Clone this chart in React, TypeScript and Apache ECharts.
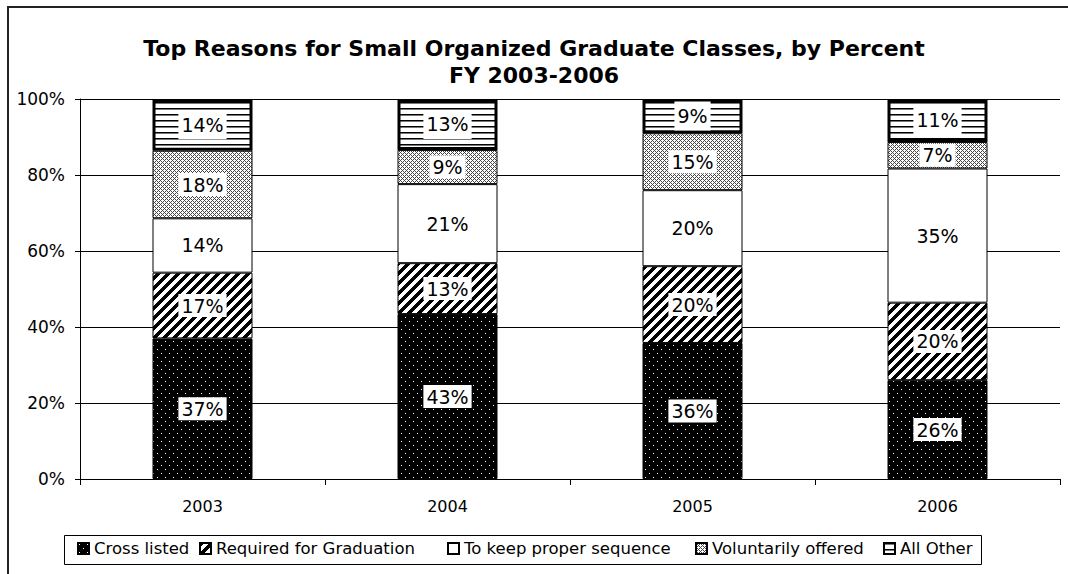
import React, { useEffect, useRef } from "react";
import * as echarts from "echarts";

const years = ["2003", "2004", "2005", "2006"];
const crossListed = [37.0, 43.4, 35.8, 26.0];
const requiredForGraduation = [17.3, 13.4, 20.2, 20.4];
const keepSequence = [14.3, 20.8, 20.0, 35.3];
const voluntarilyOffered = [17.8, 9.0, 15.0, 7.0];
const allOther = [13.6, 13.4, 9.0, 11.3];
const seriesNames = ["Cross listed", "Required for Graduation", "To keep proper sequence", "Voluntarily offered", "All Other"];
const titleLines = ["Top Reasons for Small Organized Graduate Classes, by Percent", "FY 2003-2006"];

const FONT = "'DejaVu Sans', Tahoma, sans-serif";
const legendLeft = [77, 199, 447, 695, 883];

function tile(w: number, h: number, draw: (ctx: CanvasRenderingContext2D) => void) {
  const c = document.createElement("canvas");
  c.width = w;
  c.height = h;
  const ctx = c.getContext("2d") as CanvasRenderingContext2D;
  draw(ctx);
  return { image: c.toDataURL(), repeat: "repeat", imageWidth: w, imageHeight: h } as any;
}

function makePatterns() {
  const dots = tile(8, 8, (ctx) => {
    ctx.fillStyle = "#000";
    ctx.fillRect(0, 0, 8, 8);
    ctx.fillStyle = "#fff";
    ctx.fillRect(1, 1, 1, 1);
    ctx.fillRect(5, 5, 1, 1);
  });
  const diag = tile(10, 10, (ctx) => {
    ctx.fillStyle = "#fff";
    ctx.fillRect(0, 0, 10, 10);
    ctx.fillStyle = "#000";
    for (let y = 0; y < 10; y++) {
      for (let k = 0; k < 5; k++) {
        const x = (((9 - y + k) % 10) + 10) % 10;
        ctx.fillRect(x, y, 1, 1);
      }
    }
  });
  const hatch = tile(4, 4, (ctx) => {
    ctx.fillStyle = "#fff";
    ctx.fillRect(0, 0, 4, 4);
    ctx.fillStyle = "#444";
    for (let y = 0; y < 4; y++) {
      for (let x = 0; x < 4; x++) {
        if ((x + y) % 4 === 0 || (((x - y) % 4) + 4) % 4 === 0) ctx.fillRect(x, y, 1, 1);
      }
    }
  });
  const hlines = tile(4, 6, (ctx) => {
    ctx.fillStyle = "#fff";
    ctx.fillRect(0, 0, 4, 6);
    ctx.fillStyle = "#000";
    ctx.fillRect(0, 0, 4, 1);
    ctx.fillStyle = "#777";
    ctx.fillRect(0, 1, 4, 1);
  });
  return { dots, diag, hatch, hlines };
}

export default function App() {
  const ref = useRef<HTMLDivElement>(null);
  useEffect(() => {
    if (!ref.current) return;
    const chart = echarts.init(ref.current, null, { renderer: "svg" });
    const p = makePatterns();
    const mk = (name: string, data: number[], color: any, borderWidth = 1, padV = 2) => ({
      name,
      type: "bar",
      stack: "total",
      data,
      barWidth: 100,
      itemStyle: { color, borderColor: "#000", borderWidth },
      label: {
        show: true,
        position: "inside",
        formatter: (q: any) => Math.round(q.value) + "%",
        backgroundColor: "#fff",
        padding: [padV, 3],
        color: "#000",
        fontSize: 19,
        fontFamily: FONT,
      },
    });
    chart.setOption({
      animation: false,
      backgroundColor: "#fff",
      title: {
        text: titleLines.join("\n"),
        left: "center",
        top: 30,
        textStyle: { fontFamily: FONT, fontSize: 22, fontWeight: "bold", color: "#000", lineHeight: 27 },
      },
      graphic: [
        {
          type: "rect",
          shape: { x: 8, y: 7, width: 1200, height: 700 },
          style: { fill: "none", stroke: "#222", lineWidth: 2 },
          silent: true,
        },
        {
          type: "rect",
          shape: { x: 64.5, y: 535.5, width: 917, height: 29 },
          style: { fill: "none", stroke: "#000", lineWidth: 1 },
          silent: true,
        },
      ],
      grid: { left: 80, right: 8, top: 99, bottom: 95 },
      legend: seriesNames.map((n, i) => ({
        left: legendLeft[i],
        top: 540,
        padding: 0,
        itemWidth: 11,
        itemHeight: 11,
        icon: "rect",
        textStyle: { fontFamily: FONT, fontSize: 16.5, color: "#000" },
        data: [n],
      })),
      xAxis: {
        type: "category",
        data: years,
        axisLine: { lineStyle: { color: "#000", width: 1 } },
        axisTick: { show: true, alignWithLabel: false, length: 6, lineStyle: { color: "#000" } },
        axisLabel: { color: "#000", fontSize: 16, fontFamily: FONT, margin: 19 },
      },
      yAxis: {
        type: "value",
        min: 0,
        max: 100,
        interval: 20,
        axisLine: { show: true, lineStyle: { color: "#000", width: 1 } },
        axisTick: { show: true, length: 5, lineStyle: { color: "#000" } },
        axisLabel: { color: "#000", fontSize: 17, fontFamily: FONT, formatter: "{value}%", margin: 15 },
        splitLine: { lineStyle: { color: "#000", width: 1 } },
      },
      series: [
        mk(seriesNames[0], crossListed, p.dots),
        mk(seriesNames[1], requiredForGraduation, p.diag),
        mk(seriesNames[2], keepSequence, "#fff"),
        mk(seriesNames[3], voluntarilyOffered, p.hatch),
        mk(seriesNames[4], allOther, p.hlines, 3, 5),
      ],
    });
    return () => chart.dispose();
  }, []);
  return <div ref={ref} style={{ position: "absolute", left: 0, top: 0, width: 1068, height: 574 }} />;
}
